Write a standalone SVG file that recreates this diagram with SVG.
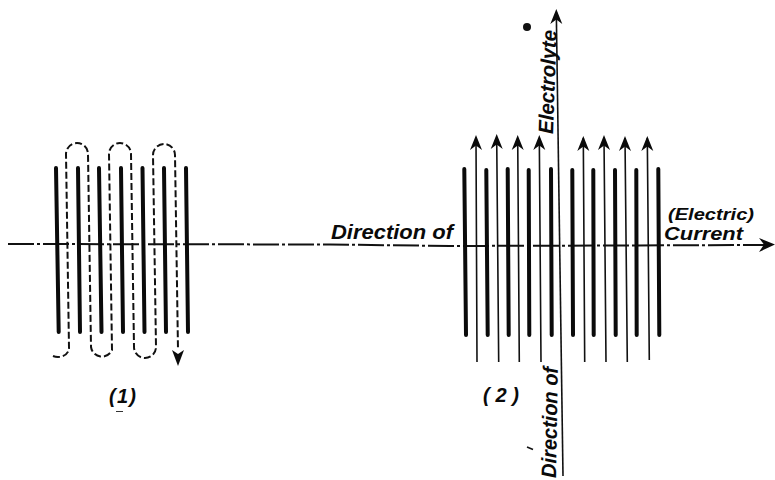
<svg xmlns="http://www.w3.org/2000/svg" width="775" height="480" viewBox="0 0 775 480">
<style>
.plate{stroke:#0a0a0a;stroke-width:4;stroke-linecap:round;fill:none}
.thin{stroke:#111;stroke-width:1.6;fill:none}
.flow{stroke:#111;stroke-width:2;fill:none;stroke-dasharray:7 3}
.axis{stroke:#111;stroke-width:2;fill:none;stroke-dasharray:26 3 3 3}
.head{fill:#0a0a0a;stroke:none}
text{font-family:"Liberation Sans",Arial,sans-serif;font-style:italic;font-weight:bold;fill:#0a0a0a}
</style>
<defs>
<path id="ah" class="head" d="M0 0L6 15L0 10.5L-6 15Z"/>
</defs>
<rect width="775" height="480" fill="#fff"/>
<g id="connectors">
<path class="axis" d="M8 244L330 244.5L450 246L770 245"/>
<path class="head" d="M775 244.5L759 238L764 244.5L759 252Z"/>
<path class="flow" d="M53 356C60 359 69 355 69 348L66 154A11 11 0 0 1 88 154L91 347A11 11 0 0 0 112 350L109 154A11 11 0 0 1 131 154L134 347A11 11 0 0 0 156 347L153 155A11 11 0 0 1 175 155L178 350"/>
<path class="head" d="M178 366L172 350L178 354L184 350Z"/>
<path class="thin" d="M556.3 12L563 476"/>
<use href="#ah" x="556.3" y="9"/>
<path class="thin" d="M476 138L477 362M496.7 138L498.7 362M517.7 138L519.3 362M539.3 138L541 362M583.3 138L584.7 362M604 138L606 362M625 138L627.3 362M647.3 138L649.3 360"/>
<use href="#ah" x="476" y="135"/><use href="#ah" x="496.7" y="134"/><use href="#ah" x="517.7" y="135"/><use href="#ah" x="539.3" y="135"/>
<use href="#ah" x="583.3" y="136"/><use href="#ah" x="604" y="135"/><use href="#ah" x="625" y="136"/><use href="#ah" x="647.3" y="136"/>
</g>
<g id="plates-1">
<path class="plate" d="M56 168L58.7 332M78 168L80 332M99 168L101.5 332M121 168L123 332M142.5 168L144.5 332M164 168L166 332M186 168L188 332"/>
</g>
<g id="plates-2">
<path class="plate" d="M464.3 169L466 335M486.3 170L487.7 335M507.7 169L508.7 335M528.7 170L529.3 335M551 169L551.7 335M572.3 170L573 335M593.3 170L593.7 335M615 170L615.7 335M636.3 170L636.7 335M658.3 169L659.3 335"/>
</g>
<g id="labels">
<text x="331" y="239" font-size="20" textLength="122" lengthAdjust="spacingAndGlyphs">Direction of</text>
<text x="668" y="220" font-size="16" textLength="86" lengthAdjust="spacingAndGlyphs" font-weight="normal">(Electric)</text>
<text x="664" y="240" font-size="18" textLength="79" lengthAdjust="spacingAndGlyphs">Current</text>
<text transform="translate(553 134) rotate(-88)" font-size="21" textLength="104" lengthAdjust="spacingAndGlyphs">Electrolyte</text>
<text transform="translate(556 478) rotate(-89)" font-size="21" textLength="111" lengthAdjust="spacingAndGlyphs">Direction of</text>
<text x="109" y="403" font-size="20" textLength="27" lengthAdjust="spacing">(1)</text>
<text x="483" y="402" font-size="20" textLength="36" lengthAdjust="spacing">(2)</text>
</g>
<g id="specks">
<circle cx="527" cy="27" r="4" fill="#111"/>
<path d="M116 411.5H123" stroke="#333" stroke-width="1"/>
<path d="M527 447L533 449.5" stroke="#111" stroke-width="1.5"/>
</g>
</svg>
